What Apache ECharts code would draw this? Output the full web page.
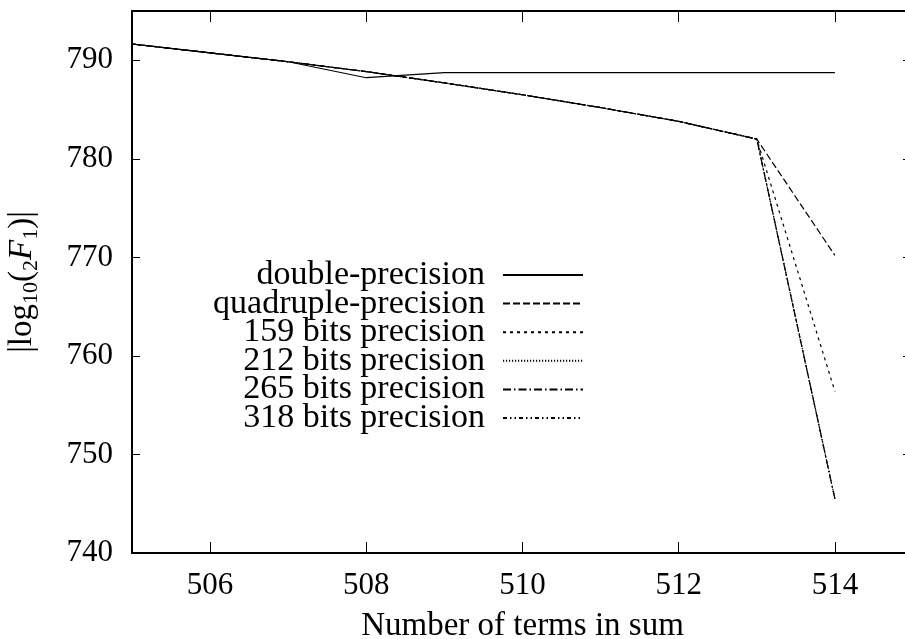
<!DOCTYPE html>
<html>
<head>
<meta charset="utf-8">
<script src="https://cdn.jsdelivr.net/npm/echarts@6/dist/echarts.min.js"></script>
<style>
  html, body { margin: 0; padding: 0; background: #fff; overflow: hidden; }
  #chart { width: 905px; height: 639px; }
</style>
</head>
<body>
<div id="chart"></div>
<script>
// Number of terms kept in the truncated hypergeometric sum
const terms = [505, 506, 507, 508, 509, 510, 511, 512, 513, 514];

// |log10(2F1)| obtained with each working precision
const doublePrec    = [791.65, 790.75, 789.85, 788.23, 788.74, 788.74, 788.74, 788.74, 788.74, 788.74];
const quadruplePrec = [791.65, 790.75, 789.85, 788.85, 787.70, 786.50, 785.20, 783.80, 782.00, 770.20];
const bits159       = [791.65, 790.75, 789.85, 788.85, 787.70, 786.50, 785.20, 783.80, 782.00, 756.40];
const bits212       = [791.65, 790.75, 789.85, 788.85, 787.70, 786.50, 785.20, 783.80, 782.00, 745.50];
const bits265       = [791.65, 790.75, 789.85, 788.85, 787.70, 786.50, 785.20, 783.80, 782.00, 745.50];
const bits318       = [791.65, 790.75, 789.85, 788.85, 787.70, 786.50, 785.20, 783.80, 782.00, 745.50];

const seriesNames = [
  'double-precision',
  'quadruple-precision',
  '159 bits precision',
  '212 bits precision',
  '265 bits precision',
  '318 bits precision'
];
const seriesValues = [doublePrec, quadruplePrec, bits159, bits212, bits265, bits318];
const dashStyles = ['solid', [7, 3], [3, 4], [1.2, 1.8], [8, 3, 1.5, 3], [4, 3, 1.5, 3, 1.5, 3]];

const xTicks = [506, 508, 510, 512, 514];
const yTicks = [740, 750, 760, 770, 780, 790];

const FONT = '"Liberation Serif", "DejaVu Serif", serif';

const chart = echarts.init(document.getElementById('chart'), null, { renderer: 'canvas' });

const series = seriesNames.map((name, i) => ({
  name: name,
  type: 'line',
  data: terms.map((t, j) => [t, seriesValues[i][j]]),
  symbol: 'none',
  showSymbol: false,
  animation: false,
  z: 10 - i,
  lineStyle: { color: '#000', width: 1.2, type: dashStyles[i] },
  itemStyle: { color: '#000' }
}));

const axisLine = { show: true, lineStyle: { color: '#000', width: 2 } };

chart.setOption({
  animation: false,
  backgroundColor: '#fff',
  grid: { left: 132, top: 11, width: 781, height: 542, containLabel: false, outerBoundsMode: 'none' },
  xAxis: [
    {
      type: 'value', min: 505, max: 515, interval: 2,
      position: 'bottom',
      axisLine: axisLine,
      axisTick: { show: true, inside: true, length: 11, lineStyle: { color: '#000', width: 1 },
                  customValues: xTicks },
      axisLabel: { show: true, margin: 17, color: '#000', fontFamily: FONT, fontSize: 31,
                   customValues: xTicks },
      splitLine: { show: false },
      name: 'Number of terms in sum',
      nameLocation: 'middle',
      nameGap: 57,
      nameTextStyle: { color: '#000', fontFamily: FONT, fontSize: 33 }
    },
    {
      type: 'value', min: 505, max: 515, interval: 2,
      position: 'top',
      axisLine: axisLine,
      axisTick: { show: true, inside: true, length: 11, lineStyle: { color: '#000', width: 1 },
                  customValues: xTicks },
      axisLabel: { show: false },
      splitLine: { show: false }
    }
  ],
  yAxis: [
    {
      type: 'value', min: 740, max: 795, interval: 10,
      position: 'left',
      axisLine: axisLine,
      axisTick: { show: true, inside: true, length: 8, lineStyle: { color: '#000', width: 1 },
                  customValues: yTicks },
      axisLabel: { show: true, margin: 19, color: '#000', fontFamily: FONT, fontSize: 31,
                   customValues: yTicks },
      splitLine: { show: false },
      name: '{b||log}{s|10}{b|(}{s|2}{i|F}{s|1}{b|)|}',
      nameLocation: 'middle',
      nameRotate: 90,
      nameGap: 90,
      nameTextStyle: {
        color: '#000', fontFamily: FONT, fontSize: 33,
        rich: {
          b: { fontFamily: FONT, fontSize: 33, lineHeight: 40, color: '#000' },
          i: { fontFamily: FONT, fontSize: 33, lineHeight: 40, fontStyle: 'italic', color: '#000' },
          s: { fontFamily: FONT, fontSize: 22, lineHeight: 22, verticalAlign: 'bottom', color: '#000' }
        }
      }
    },
    {
      // mirrored ticks on the right frame edge
      type: 'value', min: 740, max: 795, interval: 10,
      position: 'right',
      axisLine: { show: false },
      axisTick: { show: true, inside: true, length: 10, lineStyle: { color: '#000', width: 1 },
                  customValues: yTicks },
      axisLabel: { show: false },
      splitLine: { show: false }
    }
  ],
  legend: {
    orient: 'vertical',
    align: 'right',
    left: 185,
    top: 258,
    itemWidth: 80,
    itemHeight: 14,
    itemGap: -5.4,
    padding: 0,
    data: seriesNames,
    selectedMode: false,
    itemStyle: { opacity: 0, borderWidth: 0 },
    lineStyle: { inherit: true },
    textStyle: {
      color: '#000', fontFamily: FONT, fontSize: 34, lineHeight: 29,
      width: 300, align: 'right', padding: [0, 13, 0, 0]
    }
  },
  series: series
});
</script>
</body>
</html>
